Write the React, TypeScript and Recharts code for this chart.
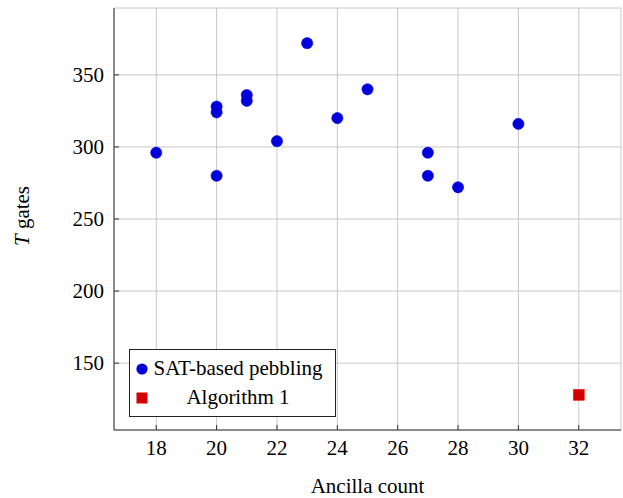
import React from "react";
import {
  CartesianGrid,
  Label,
  Legend,
  Scatter,
  ScatterChart,
  XAxis,
  YAxis,
} from "recharts";

const satAncilla = [18, 20, 20, 20, 21, 21, 22, 23, 24, 25, 27, 27, 28, 30];
const satTGates = [296, 328, 324, 280, 336, 332, 304, 372, 320, 340, 296, 280, 272, 316];
const algAncilla = [32];
const algTGates = [128];

const seriesNames = ["SAT-based pebbling", "Algorithm 1"];
const xTicks = [18, 20, 22, 24, 26, 28, 30, 32];
const yTicks = [150, 200, 250, 300, 350];

const satData = satAncilla.map((x, i) => ({ x, y: satTGates[i] }));
const algData = algAncilla.map((x, i) => ({ x, y: algTGates[i] }));

const FONT = "Liberation Serif";
const FS = 21;
const GAP = 10;
const TICK_LEN = 5;
const FRAME = "#333";

const BottomTick = (p: any) => (
  <g>
    <line x1={p.x} x2={p.x} y1={p.y - GAP} y2={p.y - GAP - TICK_LEN} stroke={FRAME} />
    <text x={p.x} y={p.y} dy="0.7em" textAnchor="middle" style={{ fontFamily: FONT }} fontSize={FS} fill="#000">
      {p.payload.value}
    </text>
  </g>
);

const TopTick = (p: any) => (
  <line x1={p.x} x2={p.x} y1={p.y} y2={p.y + TICK_LEN} stroke={FRAME} />
);

const LeftTick = (p: any) => (
  <g>
    <line x1={p.x + GAP} x2={p.x + GAP + TICK_LEN} y1={p.y} y2={p.y} stroke={FRAME} />
    <text x={p.x} y={p.y} dy="0.34em" textAnchor="end" style={{ fontFamily: FONT }} fontSize={FS} fill="#000">
      {p.payload.value}
    </text>
  </g>
);

const RightTick = (p: any) => (
  <line x1={p.x} x2={p.x - TICK_LEN} y1={p.y} y2={p.y} stroke={FRAME} />
);

const Dot = (p: any) => (
  <circle cx={p.cx} cy={p.cy} r={5.6} fill="#0000d8" stroke="#0000ff" strokeWidth={0.6} />
);

const Square = (p: any) => (
  <rect x={p.cx - 5.5} y={p.cy - 5.5} width={11} height={11} fill="#d40000" stroke="#ff2020" strokeWidth={0.6} />
);

const LegendBox = (props: any) => {
  const items = [...(props.payload || [])].sort(
    (a: any, b: any) => seriesNames.indexOf(a.value) - seriesNames.indexOf(b.value)
  );
  return (
    <div
      style={{
        border: "1px solid #222",
        background: "#fff",
        width: 205,
        padding: "4px 0",
        fontFamily: FONT,
        fontSize: FS,
        boxSizing: "content-box",
      }}
    >
      {items.map((it: any) => (
        <div key={it.value} style={{ display: "flex", alignItems: "center", height: 29 }}>
          <svg width={22} height={14} style={{ flex: "none" }}>
            {it.type === "circle" ? (
              <circle cx={12} cy={7} r={5.6} fill="#0000d8" />
            ) : (
              <rect x={6.5} y={1.5} width={11} height={11} fill="#d40000" />
            )}
          </svg>
          <span style={{ width: 172, textAlign: "center", whiteSpace: "nowrap" }}>{it.value}</span>
        </div>
      ))}
    </div>
  );
};

export default function App() {
  return (
    <div style={{ position: "absolute", left: 0, top: 0, background: "#fff", fontFamily: FONT }}>
      <ScatterChart width={623} height={498} margin={{ top: 8, right: 2, bottom: 0, left: 0 }}>
        <CartesianGrid stroke="#c8c8c8" />
        <XAxis
          type="number"
          dataKey="x"
          domain={[16.6, 33.4]}
          ticks={xTicks}
          tickSize={0}
          tickMargin={GAP}
          height={68}
          axisLine={{ stroke: FRAME }}
          tick={BottomTick}
          interval={0}
        >
          <Label
            content={(p: any) => (
              <text
                x={p.viewBox.x + p.viewBox.width / 2}
                y={p.viewBox.y + 63}
                textAnchor="middle"
                style={{ fontFamily: FONT }}
                fontSize={FS}
              >
                Ancilla count
              </text>
            )}
          />
        </XAxis>
        <XAxis
          xAxisId="top"
          orientation="top"
          type="number"
          dataKey="x"
          domain={[16.6, 33.4]}
          ticks={xTicks}
          tickSize={0}
          tickMargin={0}
          height={0}
          axisLine={{ stroke: FRAME }}
          tick={TopTick}
          interval={0}
        />
        <YAxis
          type="number"
          dataKey="y"
          domain={[103.6, 396.4]}
          ticks={yTicks}
          tickSize={0}
          tickMargin={GAP}
          width={114}
          axisLine={{ stroke: FRAME }}
          tick={LeftTick}
          interval={0}
        >
          <Label
            content={(p: any) => {
              const cx = p.viewBox.x + 29;
              const cy = p.viewBox.y + p.viewBox.height / 2 - 3;
              return (
                <text
                  x={cx}
                  y={cy}
                  transform={`rotate(-90 ${cx} ${cy})`}
                  textAnchor="middle"
                  style={{ fontFamily: FONT }}
                  fontSize={FS}
                >
                  <tspan fontStyle="italic">T</tspan> gates
                </text>
              );
            }}
          />
        </YAxis>
        <YAxis
          yAxisId="right"
          orientation="right"
          type="number"
          dataKey="y"
          domain={[103.6, 396.4]}
          ticks={yTicks}
          tickSize={0}
          tickMargin={0}
          width={0}
          axisLine={{ stroke: FRAME }}
          tick={RightTick}
          interval={0}
        />
        <Legend
          layout="vertical"
          align="center"
          verticalAlign="middle"
          content={LegendBox}
          wrapperStyle={{ left: 129, top: 349, width: "auto" }}
        />
        <Scatter
          name={seriesNames[0]}
          data={satData}
          fill="#0000d8"
          legendType="circle"
          shape={Dot}
          isAnimationActive={false}
        />
        <Scatter
          name={seriesNames[1]}
          data={algData}
          fill="#d40000"
          legendType="square"
          shape={Square}
          isAnimationActive={false}
        />
      </ScatterChart>
    </div>
  );
}
